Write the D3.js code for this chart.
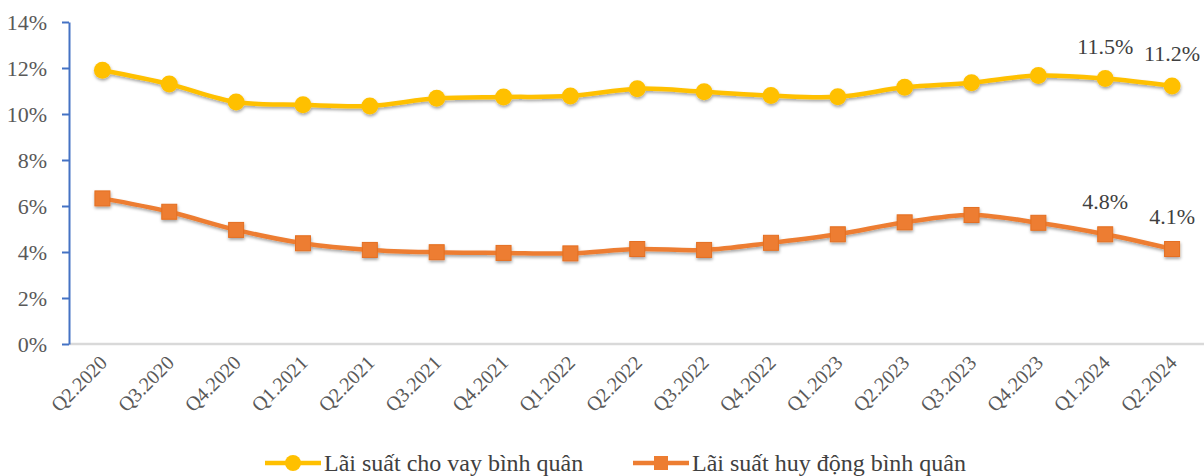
<!DOCTYPE html>
<html>
<head>
<meta charset="utf-8">
<script src="https://cdn.jsdelivr.net/npm/d3@7"></script>
<style>
  html, body { margin: 0; padding: 0; background: #fff; }
  svg { display: block; }
</style>
</head>
<body>
<svg id="chart" width="1204" height="476"></svg>
<script>
const categories = ["Q2.2020","Q3.2020","Q4.2020","Q1.2021","Q2.2021","Q3.2021","Q4.2021","Q1.2022","Q2.2022","Q3.2022","Q4.2022","Q1.2023","Q2.2023","Q3.2023","Q4.2023","Q1.2024","Q2.2024"];
const lendingRate = [11.9, 11.3, 10.52, 10.4, 10.35, 10.68, 10.74, 10.78, 11.1, 10.97, 10.8, 10.75, 11.16, 11.36, 11.67, 11.54, 11.22];
const depositRate = [6.33, 5.75, 4.96, 4.38, 4.09, 3.99, 3.96, 3.94, 4.13, 4.09, 4.4, 4.77, 5.29, 5.61, 5.27, 4.77, 4.13];
const yTicks = [0, 2, 4, 6, 8, 10, 12, 14];
const seriesNames = ["Lãi suất cho vay bình quân", "Lãi suất huy động bình quân"];
const labeledIndices = [15, 16];

const FONT = "'Liberation Serif', 'Times New Roman', 'DejaVu Serif', serif";
const svg = d3.select("#chart");

const defs = svg.append("defs");
const f = defs.append("filter").attr("id", "shadow").attr("x", "-20%").attr("y", "-20%").attr("width", "140%").attr("height", "160%");
f.append("feDropShadow").attr("dx", 0.5).attr("dy", 2).attr("stdDeviation", 1.6).attr("flood-color", "#000").attr("flood-opacity", 0.35);

const x = d3.scaleBand().domain(categories).range([69, 1205.5]);
const y = d3.scaleLinear().domain([0, 14]).range([344, 22]);
const cx = c => x(c) + x.bandwidth() / 2;

// X axis (gray baseline, rotated labels)
const xAxis = svg.append("g").attr("transform", "translate(0,344)")
  .call(d3.axisBottom(x).tickSize(0).tickSizeOuter(0).tickPadding(0));
xAxis.attr("font-family", null);
xAxis.select(".domain").attr("stroke", "#d9d9d9").attr("stroke-width", 2.5).attr("d", "M69,0H1204");
xAxis.selectAll(".tick text")
  .style("font-family", FONT)
  .style("font-size", "20px")
  .attr("fill", "#595959")
  .attr("text-anchor", "end")
  .attr("dy", 0)
  .attr("y", 0)
  .attr("transform", "translate(6,20) rotate(-45)");

// Y axis (blue)
const yAxis = svg.append("g").attr("transform", "translate(69,0)")
  .call(d3.axisLeft(y).tickValues(yTicks).tickSize(7).tickSizeOuter(0).tickPadding(15).tickFormat(d => d + "%"));
yAxis.attr("font-family", null);
yAxis.select(".domain").attr("stroke", "#4472C4").attr("stroke-width", 2);
yAxis.selectAll(".tick line").attr("stroke", "#4472C4").attr("stroke-width", 2);
yAxis.selectAll(".tick text").style("font-family", FONT).style("font-size", "22px").attr("fill", "#595959");

const line = d3.line().x((d, i) => cx(categories[i])).y(d => y(d)).curve(d3.curveCatmullRom.alpha(0));

const series = [
  { name: seriesNames[0], values: lendingRate, color: "#FFC000", marker: "circle" },
  { name: seriesNames[1], values: depositRate, color: "#ED7D31", marker: "square" }
];

series.forEach(s => {
  const g = svg.append("g").attr("filter", "url(#shadow)");
  g.append("path").attr("d", line(s.values)).attr("fill", "none").attr("stroke", s.color).attr("stroke-width", 4.5);
  if (s.marker === "circle") {
    g.selectAll("circle").data(s.values).join("circle")
      .attr("cx", (d, i) => cx(categories[i])).attr("cy", d => y(d)).attr("r", 8.5).attr("fill", s.color);
  } else {
    g.selectAll("rect").data(s.values).join("rect")
      .attr("x", (d, i) => cx(categories[i]) - 7.5).attr("y", d => y(d) - 7.5)
      .attr("width", 15).attr("height", 15).attr("fill", s.color)
      .attr("stroke", "#e46f22").attr("stroke-width", 1);
  }
  svg.append("g").selectAll("text").data(labeledIndices).join("text")
    .attr("x", i => cx(categories[i]))
    .attr("y", i => y(s.values[i]) - 25)
    .attr("text-anchor", "middle")
    .style("font-family", FONT)
    .style("font-size", "22px")
    .attr("fill", "#404040")
    .text(i => s.values[i].toFixed(1) + "%");
});

// Legend
const legendItems = [
  { x: 265, s: series[0] },
  { x: 633, s: series[1] }
];
legendItems.forEach(it => {
  const g = svg.append("g").attr("transform", `translate(${it.x},463)`);
  g.append("line").attr("x1", 0).attr("x2", 56).attr("y1", 0).attr("y2", 0).attr("stroke", it.s.color).attr("stroke-width", 4.5);
  if (it.s.marker === "circle") {
    g.append("circle").attr("cx", 28).attr("cy", 0).attr("r", 8).attr("fill", it.s.color);
  } else {
    g.append("rect").attr("x", 21).attr("y", -7).attr("width", 14).attr("height", 14).attr("fill", it.s.color);
  }
  g.append("text").attr("x", 59).attr("y", 8)
    .style("font-family", FONT).style("font-size", "24px")
    .attr("fill", "#404040").text(it.s.name);
});
</script>
</body>
</html>
